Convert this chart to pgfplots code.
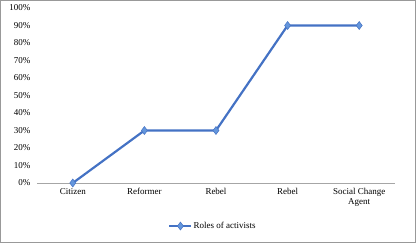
\documentclass[border=0pt]{standalone}
\usepackage{pgfplots}
\pgfplotsset{compat=1.18}
\usepackage{fontspec}
\setmainfont{Liberation Serif}
\definecolor{xlblue}{RGB}{68,114,196}
\definecolor{xlmark}{RGB}{100,150,220}
\begin{document}
\begin{tikzpicture}
\draw[gray!80, line width=0.8pt] (0.4pt,0.4pt) rectangle (415.6pt,242.6pt);
\begin{axis}[
  at={(37pt,60pt)}, anchor=south west,
  scale only axis, width=358pt, height=175pt,
  xmin=-0.5, xmax=4.5, ymin=0, ymax=100,
  axis lines=left,
  y axis line style={draw=none},
  x axis line style={draw=gray!70, line width=0.8pt, -},
  major tick length=0pt,
  xtick={0,1,2,3,4},
  xticklabels={Citizen,Reformer,Rebel,Rebel,{Social Change\\Agent}},
  x tick label style={font=\fontsize{9}{10}\selectfont, align=center, yshift=-2pt},
  ytick={0,10,...,100},
  yticklabel={\pgfmathprintnumber{\tick}\%},
  y tick label style={font=\fontsize{9}{10}\selectfont, xshift=-3pt},
  /pgf/number format/assume math mode=true,
  clip=false,
  legend style={at={(0.49,-0.246)}, anchor=center, draw=none, fill=none,
    font=\fontsize{9}{10}\selectfont, inner sep=0pt, nodes={inner sep=1pt}},
  legend image code/.code={%
    \draw[mark repeat=2,mark phase=2,#1] plot coordinates {(0pt,0pt)(11pt,0pt)(22pt,0pt)};},
]
\addplot[color=xlblue, line width=2.2pt, mark=diamond*, mark size=4pt,
  mark options={fill=xlmark, draw=xlblue, line width=0.5pt}]
  coordinates {(0,0) (1,30) (2,30) (3,90) (4,90)};
\addlegendentry{Roles of activists}
\end{axis}
\end{tikzpicture}
\end{document}
